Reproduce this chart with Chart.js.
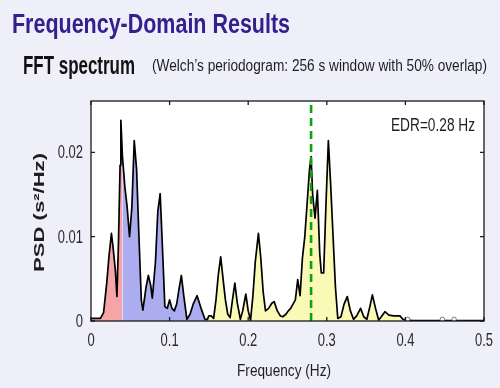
<!DOCTYPE html>
<html>
<head>
<meta charset="utf-8">
<script src="https://cdn.jsdelivr.net/npm/chart.js@4.4.0/dist/chart.umd.min.js"></script>
<style>
  html, body { margin: 0; padding: 0; background: #efeffa; }
  #fft { display: block; }
</style>
</head>
<body>
<canvas id="fft" width="500" height="388"></canvas>
<script>
// spectrum (Hz, s^2/Hz)
const freq = [0.000, 0.006, 0.012, 0.016, 0.020, 0.023, 0.026, 0.028, 0.031, 0.033,
    0.035, 0.037, 0.038, 0.040, 0.043, 0.046, 0.049, 0.052, 0.055, 0.058,
    0.061, 0.064, 0.066, 0.070, 0.073, 0.076, 0.078, 0.082, 0.085, 0.088,
    0.091, 0.094, 0.097, 0.100, 0.103, 0.106, 0.109, 0.112, 0.115, 0.118,
    0.122, 0.126, 0.130, 0.135, 0.140, 0.145, 0.148, 0.150, 0.153, 0.156,
    0.159, 0.162, 0.165, 0.168, 0.171, 0.174, 0.177, 0.180, 0.183, 0.186,
    0.190, 0.193, 0.197, 0.200, 0.203, 0.206, 0.209, 0.213, 0.216, 0.219,
    0.222, 0.226, 0.230, 0.233, 0.237, 0.241, 0.244, 0.248, 0.251, 0.254,
    0.257, 0.260, 0.263, 0.266, 0.269, 0.272, 0.275, 0.278, 0.280, 0.282,
    0.285, 0.288, 0.291, 0.293, 0.296, 0.299, 0.302, 0.305, 0.308, 0.311,
    0.314, 0.318, 0.322, 0.326, 0.330, 0.334, 0.338, 0.343, 0.347, 0.351,
    0.355, 0.358, 0.362, 0.366, 0.370, 0.374, 0.379, 0.385, 0.390, 0.393,
    0.397, 0.400, 0.410, 0.420, 0.430, 0.440, 0.450, 0.460, 0.470, 0.480,
    0.490, 0.500];
const psd = [0.0003, 0.0003, 0.0003, 0.0010, 0.0045, 0.0078, 0.0104, 0.0088, 0.0060, 0.0029,
    0.0095, 0.0185, 0.0238, 0.0195, 0.0160, 0.0135, 0.0100, 0.0135, 0.0214, 0.0180,
    0.0100, 0.0025, 0.0013, 0.0040, 0.0054, 0.0042, 0.0027, 0.0070, 0.0130, 0.0151,
    0.0085, 0.0017, 0.0015, 0.0025, 0.0015, 0.0012, 0.0020, 0.0038, 0.0054, 0.0030,
    0.0002, 0.0008, 0.0020, 0.0030, 0.0015, 0.0002, 0.0002, 0.0006, 0.0006, 0.0003,
    0.0025, 0.0055, 0.0076, 0.0050, 0.0025, 0.0008, 0.0004, 0.0025, 0.0045, 0.0022,
    0.0002, 0.0012, 0.0032, 0.0012, 0.0001, 0.0030, 0.0070, 0.0104, 0.0075, 0.0035,
    0.0012, 0.0015, 0.0021, 0.0023, 0.0012, 0.0006, 0.0005, 0.0008, 0.0012, 0.0015,
    0.0020, 0.0025, 0.0049, 0.0030, 0.0075, 0.0100, 0.0140, 0.0180, 0.0195, 0.0150,
    0.0122, 0.0155, 0.0080, 0.0057, 0.0057, 0.0140, 0.0214, 0.0160, 0.0100, 0.0040,
    0.0003, 0.0005, 0.0020, 0.0029, 0.0012, 0.0002, 0.0006, 0.0015, 0.0005, 0.0002,
    0.0018, 0.0031, 0.0015, 0.0001, 0.0006, 0.0011, 0.0007, 0.0006, 0.0006, 0.0006,
    0.0002, 0.0001, 0.00005, 0.00005, 0.00005, 0.00005, 0.00005, 0.00005, 0.00005, 0.00005,
    0.00005, 0.00005];

// VLF / LF / HF band limits
const bandEdges = [0, 0.04, 0.15, 0.40];
const bandColors = ['rgb(245,165,168)', 'rgb(172,172,240)', 'rgb(250,250,182)'];
const edrFreq = 0.28;
const gapMarks = [0.403, 0.447, 0.462];

const xTicks = [0, 0.1, 0.2, 0.3, 0.4, 0.5];
const xTickLabels = ['0', '0.1', '0.2', '0.3', '0.4', '0.5'];
const yTicks = [0, 0.01, 0.02];
const yTickLabels = ['0', '0.01', '0.02'];

const pts = freq.map((f, i) => ({x: f, y: psd[i]}));

function bandData(lo, hi) {
    return pts.filter(p => p.x >= lo && p.x <= hi);
}

// squeezed text, the picture is narrow
function putText(ctx, txt, x, y, font, color, align, sx) {
    ctx.save();
    ctx.font = font;
    ctx.fillStyle = color;
    ctx.textAlign = align;
    ctx.textBaseline = 'alphabetic';
    ctx.translate(x, y);
    ctx.scale(sx, 1);
    ctx.fillText(txt, 0, 0);
    ctx.restore();
}
function fitText(ctx, txt, left, y, width, font, color) {
    ctx.save();
    ctx.font = font;
    const w = ctx.measureText(txt).width;
    ctx.restore();
    putText(ctx, txt, left, y, font, color, 'left', width / w);
}

const boxPlugin = {
    id: 'matlabBox',
    beforeDatasetsDraw(chart) {
        const a = chart.chartArea, ctx = chart.ctx;
        ctx.save();
        ctx.fillStyle = '#ffffff';
        ctx.fillRect(a.left, a.top, a.right - a.left, a.bottom - a.top);
        ctx.restore();
    },
    afterDatasetsDraw(chart) {
        const a = chart.chartArea, ctx = chart.ctx;
        const xs = chart.scales.x, ys = chart.scales.y;
        ctx.save();
        ctx.strokeStyle = '#1a1a1a';
        ctx.lineWidth = 1.3;
        ctx.strokeRect(a.left, a.top, a.right - a.left, a.bottom - a.top);
        ctx.beginPath();
        xTicks.forEach(v => {
            const px = xs.getPixelForValue(v);
            ctx.moveTo(px, a.bottom); ctx.lineTo(px, a.bottom - 4);
            ctx.moveTo(px, a.top); ctx.lineTo(px, a.top + 4);
        });
        yTicks.forEach(v => {
            const py = ys.getPixelForValue(v);
            ctx.moveTo(a.left, py); ctx.lineTo(a.left + 4, py);
            ctx.moveTo(a.right, py); ctx.lineTo(a.right - 4, py);
        });
        ctx.stroke();
        ctx.restore();
    },
    afterDraw(chart) {
        const a = chart.chartArea, ctx = chart.ctx;
        const xs = chart.scales.x, ys = chart.scales.y;
        const tickFont = '18px "Liberation Sans", Arial, sans-serif';
        xTicks.forEach((v, i) => {
            putText(ctx, xTickLabels[i], xs.getPixelForValue(v), a.bottom + 25, tickFont, '#2a2a2a', 'center', 0.72);
        });
        yTicks.forEach((v, i) => {
            putText(ctx, yTickLabels[i], a.left - 8, ys.getPixelForValue(v) + 6, tickFont, '#2a2a2a', 'right', 0.72);
        });

        fitText(ctx, 'Frequency-Domain Results', 12, 33, 278, 'bold 27px "Liberation Sans", Arial, sans-serif', '#33208c');
        fitText(ctx, 'FFT spectrum', 23, 74, 112, 'bold 25px "Liberation Sans", Arial, sans-serif', '#111111');
        fitText(ctx, '(Welch’s periodogram: 256 s window with 50% overlap)', 152, 71, 335, '16px "Liberation Sans", Arial, sans-serif', '#1e1e1e');
        fitText(ctx, 'EDR=0.28 Hz', 391, 131, 84, '18px "Liberation Sans", Arial, sans-serif', '#1e1e1e');
        fitText(ctx, 'Frequency (Hz)', 237, 376, 94, '17px "Liberation Sans", Arial, sans-serif', '#1e1e1e');

        // rotated y title
        ctx.save();
        ctx.translate(44, 272);
        ctx.rotate(-Math.PI / 2);
        fitText(ctx, 'PSD (s²/Hz)', 0, 0, 119, 'bold 15px "Liberation Sans", Arial, sans-serif', '#1e1e1e');
        ctx.restore();
    }
};

const datasets = [];
for (let b = 0; b < 3; b++) {
    datasets.push({
        data: bandData(bandEdges[b], bandEdges[b + 1]),
        borderWidth: 0,
        borderColor: 'rgba(0,0,0,0)',
        backgroundColor: bandColors[b],
        fill: 'origin',
        pointRadius: 0,
        order: 3
    });
}
datasets.push({
    data: pts,
    borderColor: '#000000',
    borderWidth: 1.7,
    borderJoinStyle: 'round',
    fill: false,
    pointRadius: 0,
    tension: 0,
    order: 1
});
datasets.push({
    data: [{x: edrFreq, y: 0}, {x: edrFreq, y: 0.0261}],
    borderColor: '#12a012',
    borderWidth: 2.6,
    borderDash: [8, 5],
    fill: false,
    pointRadius: 0,
    order: 0
});
datasets.push({
    data: gapMarks.map(f => ({x: f, y: 0.0002})),
    showLine: false,
    pointRadius: 2.2,
    pointBorderWidth: 1,
    pointBorderColor: '#777777',
    pointBackgroundColor: '#ffffff',
    order: -1
});

new Chart(document.getElementById('fft').getContext('2d'), {
    type: 'line',
    data: { datasets: datasets },
    plugins: [boxPlugin],
    options: {
        responsive: false,
        animation: false,
        devicePixelRatio: 1,
        layout: { padding: { left: 91, top: 101, right: 16, bottom: 67 } },
        scales: {
            x: { type: 'linear', min: 0, max: 0.5, display: false },
            y: { type: 'linear', min: 0, max: 0.0261, display: false }
        },
        plugins: {
            legend: { display: false },
            tooltip: { enabled: false }
        }
    }
});
</script>
</body>
</html>
